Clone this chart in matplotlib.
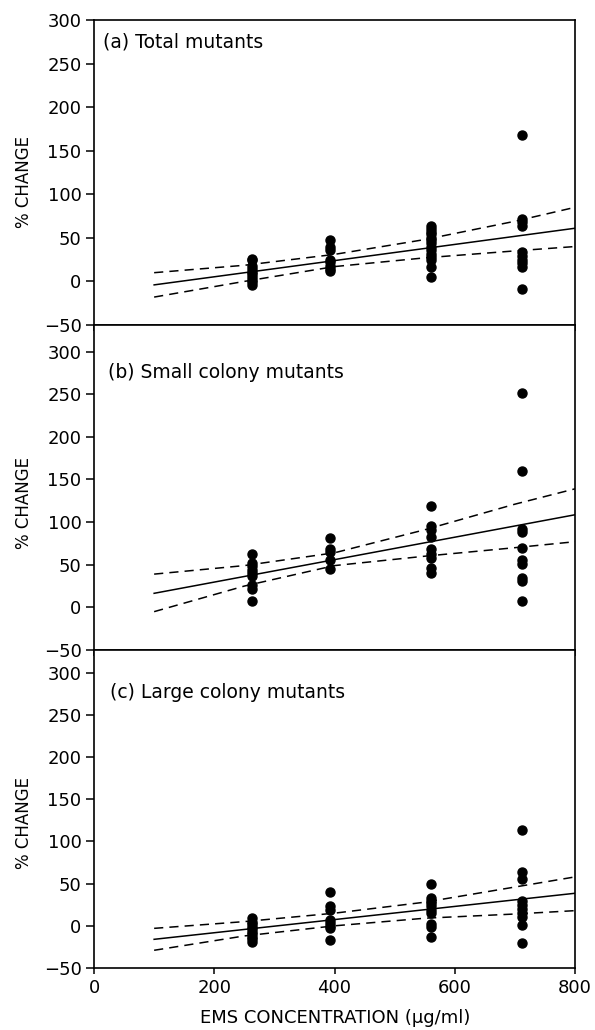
import numpy as np
import matplotlib
matplotlib.use("Agg")
import matplotlib.pyplot as plt

# EMS dose groups (ug/ml)
doses = [262, 393, 561, 712]

# (a) total mutants, % change per culture
a_pts = [
    [26, 24, 18, 14, 11, 8, 5, 2, -1, -4],
    [48, 40, 36, 25, 22, 18, 14, 12],
    [63, 60, 57, 54, 50, 47, 44, 40, 36, 32, 28, 24, 17, 5],
    [168, 72, 68, 64, 34, 29, 25, 21, 17, -9],
]
# (b) small colony mutants
b_pts = [
    [63, 52, 48, 44, 40, 37, 26, 22, 7],
    [81, 69, 65, 56, 45],
    [119, 95, 91, 83, 69, 63, 58, 46, 40],
    [251, 160, 92, 88, 70, 56, 51, 35, 31, 8],
]
# (c) large colony mutants
c_pts = [
    [9, 5, 2, -1, -4, -7, -10, -13, -16, -19],
    [40, 23, 19, 7, 3, 0, -3, -17],
    [50, 33, 30, 27, 23, 19, 15, 2, -1, -13],
    [114, 64, 55, 30, 25, 20, 15, 11, 1, -20],
]

# fitted line ends and confidence band
fit_x = [100, 800]
a_fit = [-4, 61]
b_fit = [16.5, 108.6]
c_fit = [-16, 38.6]

band_x = [100, 250, 400, 550, 700, 800]
a_up = [10, 18.5, 31, 48, 69, 85]
a_lo = [-18, 0, 17, 27, 35, 40]
b_up = [39, 49, 64, 91, 121, 139]
b_lo = [-5, 25, 49, 60, 70, 77]
c_up = [-3, 5, 15, 28, 46, 58]
c_lo = [-29, -12, 0, 9, 14, 18]

titles = ["(a) Total mutants", "(b) Small colony mutants", "(c) Large colony mutants"]

plt.rcParams['font.family'] = ['DejaVu Sans']
fig = plt.figure(figsize=(5.95, 10.3), dpi=100)

# axes boxes in figure fractions, stacked with no gap
boxes = [
    [0.158, 0.6845, 0.8084, 0.2961],
    [0.158, 0.3689, 0.8084, 0.3155],
    [0.158, 0.0602, 0.8084, 0.3087],
]
ylims = [(-50, 300), (-50, 331), (-50, 327)]
title_pos = [(0.019, 0.928), (0.029, 0.855), (0.033, 0.865)]
ylab_y = [0.823, 0.5117, 0.201]

panels = [
    (a_pts, a_fit, a_up, a_lo),
    (b_pts, b_fit, b_up, b_lo),
    (c_pts, c_fit, c_up, c_lo),
]

for i, (pts, fit, up, lo) in enumerate(panels):
    ax = fig.add_axes(boxes[i])
    for d, vals in zip(doses, pts):
        ax.plot([d] * len(vals), vals, 'o', color='black', ms=6.5, mec='black')
    ax.plot(fit_x, fit, '-', color='black', lw=1.1)
    ax.plot(band_x, up, color='black', lw=1.1, linestyle=(0, (6, 4)))
    ax.plot(band_x, lo, color='black', lw=1.1, linestyle=(0, (6, 4)))

    ax.set_xlim(0, 800)
    ax.set_ylim(*ylims[i])
    ax.set_xticks([0, 200, 400, 600, 800])
    ax.set_yticks(np.arange(-50, 301, 50))
    ax.tick_params(axis='y', direction='out', length=6, width=1.1, labelsize=13, pad=3)
    ax.tick_params(axis='x', direction='out', length=4, width=1.1, labelsize=13, pad=4)
    if i < 2:
        ax.tick_params(axis='x', labelbottom=False)
    for s in ax.spines.values():
        s.set_linewidth(1.2)
    ax.text(title_pos[i][0], title_pos[i][1], titles[i], transform=ax.transAxes,
            ha='left', va='center', fontsize=13.5)
    fig.text(0.040, ylab_y[i], '% CHANGE', rotation=90, ha='center', va='center',
             fontsize=12)

fig.text(0.563, 0.0117, 'EMS CONCENTRATION (μg/ml)', ha='center', va='center', fontsize=13)

fig.savefig('out.png', dpi=100)
